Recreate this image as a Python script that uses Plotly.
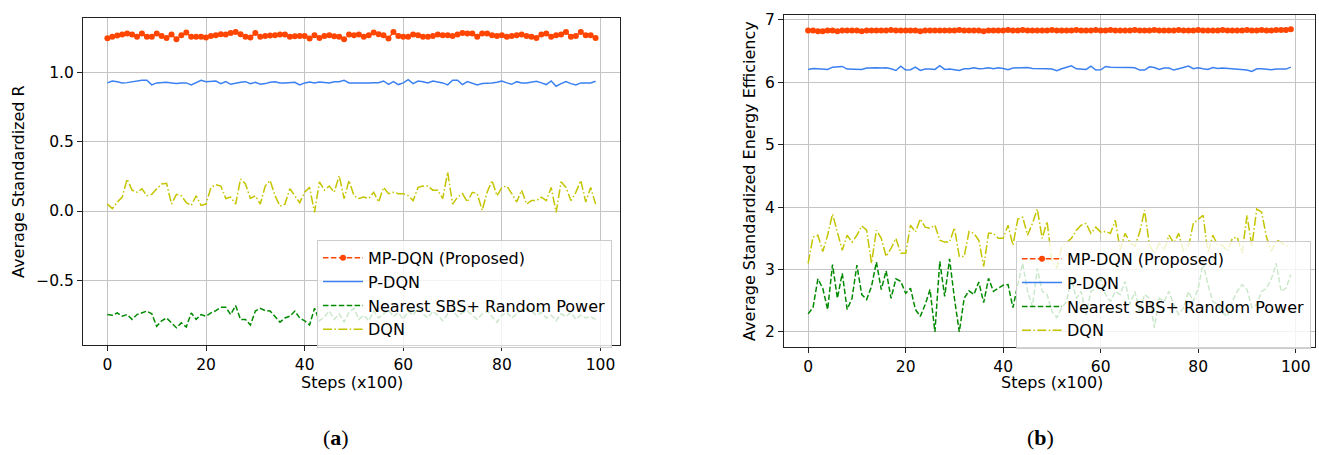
import plotly.graph_objects as go

steps = list(range(100))

# ---------------- (a) Average Standardized R ----------------
a_mpdqn = [1.244,1.254,1.263,1.27,1.277,1.27,1.254,1.277,1.254,1.254,
           1.277,1.26,1.246,1.27,1.237,1.265,1.284,1.254,1.254,1.254,
           1.249,1.26,1.265,1.272,1.27,1.282,1.289,1.272,1.254,1.249,
           1.282,1.254,1.26,1.263,1.265,1.27,1.27,1.254,1.258,1.26,
           1.26,1.242,1.265,1.246,1.26,1.265,1.258,1.254,1.237,1.27,
           1.265,1.27,1.254,1.265,1.284,1.272,1.265,1.242,1.289,1.26,
           1.254,1.254,1.27,1.265,1.254,1.254,1.26,1.27,1.265,1.265,
           1.26,1.27,1.282,1.277,1.277,1.254,1.277,1.277,1.265,1.26,
           1.265,1.254,1.26,1.265,1.27,1.26,1.254,1.246,1.27,1.277,
           1.254,1.265,1.27,1.289,1.254,1.26,1.289,1.265,1.265,1.246]
a_pdqn = [0.922,0.936,0.931,0.922,0.924,0.931,0.936,0.941,0.941,0.908,
          0.922,0.927,0.927,0.922,0.917,0.922,0.922,0.908,0.927,0.941,
          0.931,0.931,0.936,0.917,0.931,0.912,0.922,0.927,0.931,0.917,
          0.927,0.912,0.917,0.927,0.931,0.922,0.922,0.922,0.927,0.908,
          0.922,0.929,0.922,0.929,0.927,0.922,0.931,0.931,0.941,0.922,
          0.922,0.922,0.917,0.922,0.924,0.924,0.936,0.912,0.931,0.910,
          0.922,0.945,0.917,0.936,0.931,0.922,0.936,0.931,0.922,0.908,
          0.941,0.941,0.910,0.931,0.922,0.908,0.917,0.917,0.922,0.927,
          0.936,0.922,0.912,0.931,0.922,0.922,0.927,0.934,0.922,0.910,
          0.936,0.898,0.917,0.931,0.917,0.908,0.922,0.922,0.922,0.934]
a_nearest = [-0.745,-0.75,-0.733,-0.757,-0.745,-0.78,-0.745,-0.733,-0.72,-0.74,
             -0.83,-0.79,-0.77,-0.805,-0.84,-0.805,-0.835,-0.733,-0.78,-0.745,
             -0.757,-0.733,-0.717,-0.693,-0.693,-0.745,-0.68,-0.78,-0.78,-0.82,
             -0.72,-0.70,-0.717,-0.72,-0.757,-0.80,-0.77,-0.757,-0.72,-0.77,
             -0.79,-0.82,-0.70,-0.79,-0.76,-0.72,-0.78,-0.74,-0.80,-0.73,
             -0.70,-0.78,-0.75,-0.79,-0.72,-0.77,-0.74,-0.71,-0.76,-0.73,
             -0.78,-0.72,-0.75,-0.70,-0.74,-0.77,-0.72,-0.75,-0.79,-0.74,
             -0.71,-0.76,-0.73,-0.72,-0.75,-0.78,-0.74,-0.72,-0.76,-0.80,
             -0.75,-0.73,-0.77,-0.74,-0.71,-0.70,-0.72,-0.75,-0.73,-0.77,
             -0.75,-0.79,-0.74,-0.76,-0.73,-0.78,-0.75,-0.77,-0.76,-0.78]
a_dqn = [0.05,0.017,0.064,0.10,0.23,0.15,0.135,0.16,0.11,0.12,
         0.16,0.195,0.20,0.05,0.12,0.11,0.06,0.04,0.11,0.04,
         0.05,0.17,0.19,0.18,0.09,0.10,0.05,0.23,0.195,0.09,
         0.11,0.05,0.18,0.22,0.11,0.035,0.05,0.16,0.11,0.06,
         0.135,0.17,-0.01,0.21,0.15,0.18,0.135,0.255,0.09,0.22,
         0.11,0.09,0.10,0.09,0.135,0.065,0.17,0.125,0.135,0.125,
         0.125,0.11,0.075,0.17,0.18,0.18,0.15,0.15,0.09,0.28,
         0.05,0.10,0.125,0.065,0.135,0.125,0.005,0.135,0.22,0.11,
         0.17,0.18,0.125,0.065,0.15,0.05,0.075,0.075,0.10,0.075,
         0.17,-0.01,0.21,0.17,0.075,0.135,0.22,0.065,0.17,0.05]

# ---------------- (b) Average Standardized Energy Efficiency ----------------
b_mpdqn = [6.83,6.83,6.82,6.82,6.83,6.83,6.82,6.83,6.83,6.83,
           6.83,6.82,6.83,6.83,6.83,6.83,6.83,6.84,6.83,6.83,
           6.83,6.83,6.83,6.82,6.83,6.83,6.83,6.83,6.83,6.83,
           6.83,6.84,6.83,6.83,6.83,6.83,6.82,6.83,6.83,6.83,
           6.83,6.84,6.83,6.83,6.84,6.83,6.83,6.83,6.83,6.83,
           6.84,6.83,6.83,6.83,6.83,6.84,6.83,6.83,6.83,6.84,
           6.83,6.83,6.84,6.83,6.83,6.83,6.83,6.84,6.83,6.83,
           6.83,6.84,6.83,6.83,6.83,6.83,6.84,6.83,6.83,6.83,
           6.84,6.83,6.83,6.83,6.83,6.84,6.83,6.83,6.83,6.83,
           6.84,6.83,6.83,6.84,6.83,6.83,6.84,6.84,6.84,6.85]
b_pdqn = [6.206,6.222,6.217,6.212,6.206,6.243,6.243,6.254,6.212,6.212,
          6.206,6.206,6.228,6.233,6.233,6.228,6.233,6.217,6.190,6.259,
          6.196,6.201,6.243,6.190,6.212,6.212,6.206,6.265,6.206,6.212,
          6.206,6.190,6.217,6.217,6.233,6.217,6.222,6.233,6.217,6.233,
          6.222,6.201,6.228,6.233,6.228,6.238,6.222,6.222,6.228,6.217,
          6.212,6.185,6.217,6.238,6.265,6.217,6.212,6.206,6.259,6.196,
          6.201,6.254,6.243,6.238,6.238,6.238,6.238,6.233,6.196,6.196,
          6.249,6.238,6.206,6.228,6.228,6.196,6.217,6.233,6.259,6.217,
          6.233,6.217,6.206,6.238,6.222,6.228,6.222,6.217,6.212,6.206,
          6.196,6.175,6.217,6.217,6.212,6.201,6.212,6.217,6.212,6.243]
b_nearest = [2.29,2.39,2.85,2.70,2.36,3.08,2.54,2.94,2.36,2.54,
             3.07,2.60,2.52,2.73,3.12,2.68,2.98,2.54,2.85,2.81,
             2.62,2.70,2.36,2.25,2.44,2.68,2.00,3.13,2.57,3.17,
             2.54,2.00,2.54,2.66,2.60,2.80,2.47,2.86,2.65,2.70,
             2.75,2.76,2.39,2.76,3.10,2.65,2.41,3.02,2.65,2.60,
             2.33,2.23,2.39,2.49,2.85,2.54,2.65,2.28,2.65,2.70,
             2.85,2.60,2.49,2.65,2.60,2.81,2.44,2.65,2.33,2.60,
             2.54,2.07,2.54,2.49,2.65,2.44,2.28,2.39,2.65,2.49,
             2.70,3.10,2.76,2.49,2.44,2.31,2.25,2.49,2.65,2.76,
             2.68,2.39,2.44,2.65,2.70,2.85,3.10,2.65,2.70,2.92]
b_dqn = [3.10,3.52,3.55,3.29,3.55,3.89,3.60,3.31,3.55,3.44,
         3.55,3.70,3.63,3.10,3.63,3.50,3.21,3.34,3.50,3.26,
         3.26,3.71,3.60,3.81,3.68,3.66,3.71,3.47,3.44,3.44,
         3.67,3.21,3.21,3.61,3.58,3.47,3.05,3.58,3.58,3.50,
         3.50,3.71,3.39,3.81,3.84,3.55,3.74,3.97,3.50,3.77,
         3.13,3.02,3.37,3.44,3.50,3.63,3.71,3.74,3.58,3.68,
         3.60,3.61,3.58,3.79,3.31,3.58,3.44,3.37,3.60,3.95,
         3.39,3.26,3.42,3.31,3.55,3.42,3.58,3.29,3.37,3.74,
         3.81,3.87,3.26,3.55,3.39,3.39,3.29,3.50,3.52,3.26,
         3.87,3.37,3.97,3.92,3.52,3.29,3.47,3.44,3.37,3.39]

series_names = ["MP-DQN (Proposed)", "P-DQN", "Nearest SBS+ Random Power", "DQN"]
x_ticks = [0, 20, 40, 60, 80, 100]
a_yticks = [-0.5, 0.0, 0.5, 1.0]
a_yticktext = ["\u22120.5", "0.0", "0.5", "1.0"]
b_yticks = [2, 3, 4, 5, 6, 7]

RED = "#ff4500"
BLUE = "#3b80f0"
GREEN = "#008a00"
YEL = "#c4c400"
FONT = "DejaVu Sans"

fig = go.Figure()


def add_set(vals, xa, ya, leg):
    mp, pd_, nr, dq = vals
    fig.add_trace(go.Scatter(x=steps, y=mp, name=series_names[0], mode="lines+markers",
                             line=dict(color=RED, width=1.5, dash="5.5px,2.4px"),
                             marker=dict(color=RED, size=6, line=dict(width=0)),
                             xaxis=xa, yaxis=ya, legend=leg))
    fig.add_trace(go.Scatter(x=steps, y=pd_, name=series_names[1], mode="lines",
                             line=dict(color=BLUE, width=1.5),
                             xaxis=xa, yaxis=ya, legend=leg))
    fig.add_trace(go.Scatter(x=steps, y=nr, name=series_names[2], mode="lines",
                             line=dict(color=GREEN, width=1.5, dash="5.5px,2.4px"),
                             xaxis=xa, yaxis=ya, legend=leg))
    fig.add_trace(go.Scatter(x=steps, y=dq, name=series_names[3], mode="lines",
                             line=dict(color=YEL, width=1.5, dash="9px,2.4px,1.5px,2.4px"),
                             xaxis=xa, yaxis=ya, legend=leg))


add_set([a_mpdqn, a_pdqn, a_nearest, a_dqn], "x", "y", "legend")
add_set([b_mpdqn, b_pdqn, b_nearest, b_dqn], "x2", "y2", "legend2")

W, H = 1319, 455
axis_common = dict(showline=True, mirror=True, linecolor="#222", linewidth=1,
                   showgrid=True, gridcolor="#c4c4c4", gridwidth=1,
                   zeroline=False, ticks="outside", ticklen=5, tickwidth=1,
                   tickcolor="#222", tickfont=dict(family=FONT, size=15.5, color="#000"))

legend_common = dict(bgcolor="rgba(255,255,255,0.8)", bordercolor="#cccccc", borderwidth=1,
                     font=dict(family=FONT, size=16, color="#000"), itemwidth=40,
                     xanchor="left", yanchor="top", tracegroupgap=0)

fig.update_layout(
    width=W, height=H,
    margin=dict(l=0, r=0, t=0, b=0),
    paper_bgcolor="white", plot_bgcolor="white",
    xaxis=dict(domain=[83 / W, 620 / W], range=[-4.95, 103.95], tickvals=x_ticks,
               anchor="y", **axis_common),
    yaxis=dict(domain=[1 - 344 / H, 1 - 14 / H], range=[-0.964, 1.39], tickvals=a_yticks,
               ticktext=a_yticktext, anchor="x", **axis_common),
    xaxis2=dict(domain=[784 / W, 1315 / W], range=[-4.95, 103.95], tickvals=x_ticks,
                anchor="y2", **axis_common),
    yaxis2=dict(domain=[1 - 346 / H, 1 - 11 / H], range=[1.76, 7.08], tickvals=b_yticks,
                anchor="x2", **axis_common),
    legend=dict(x=317 / W, y=1 - 238 / H, **legend_common),
    legend2=dict(x=1016 / W, y=1 - 239 / H, **legend_common),
)

title_font = dict(family=FONT, size=16, color="#000")
ann = [
    dict(text="Average Standardized R", x=18.5 / W, y=1 - 179 / H, textangle=-90),
    dict(text="Average Standardized Energy Efficiency", x=750 / W, y=1 - 178.5 / H, textangle=-90),
    dict(text="Steps (x100)", x=352 / W, y=1 - 382 / H),
    dict(text="Steps (x100)", x=1052 / W, y=1 - 382 / H),
]
for a in ann:
    fig.add_annotation(xref="paper", yref="paper", showarrow=False, xanchor="center",
                       yanchor="middle", font=title_font, **a)

panel_font = dict(family="Liberation Serif", size=22, color="#000")
fig.add_annotation(text="(<b>a</b>)", x=336 / W, y=1 - 437 / H, xref="paper", yref="paper",
                   showarrow=False, xanchor="center", yanchor="middle", font=panel_font)
fig.add_annotation(text="(<b>b</b>)", x=1040 / W, y=1 - 437 / H, xref="paper", yref="paper",
                   showarrow=False, xanchor="center", yanchor="middle", font=panel_font)

fig.write_html("out.html")
